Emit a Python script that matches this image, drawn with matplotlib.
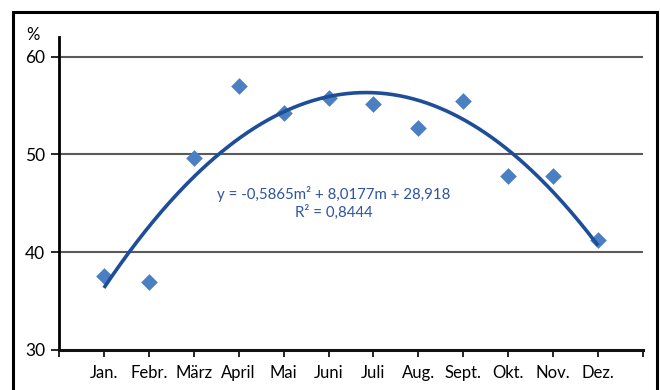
import numpy as np
import matplotlib
matplotlib.use("Agg")
import matplotlib.pyplot as plt
from matplotlib.patches import Rectangle

plt.rcParams['font.family'] = ['Lato', 'DejaVu Sans']

months = ["Jan.", "Febr.", "März", "April", "Mai", "Juni",
          "Juli", "Aug.", "Sept.", "Okt.", "Nov.", "Dez."]
values = [37.55, 37.0, 49.6, 56.95, 54.2, 55.8,
          55.1, 52.65, 55.45, 47.8, 47.8, 41.2]
# quadratic trend: y = a*m^2 + b*m + c
trend_coef = [-0.5865, 8.0177, 28.918]
r_squared = 0.8444
y_ticks = [30, 40, 50, 60]

fig = plt.figure(figsize=(6.6, 3.9), dpi=100)
ax = fig.add_axes([59 / 660, 1 - 350 / 390, (643 - 59) / 660, (350 - 37) / 390])

m = np.arange(1, len(months) + 1)
ax.scatter(m, values, marker="D", s=72, color="#4A7FC1", zorder=3, linewidths=0)

mm = np.linspace(1, len(months), 300)
ax.plot(mm, np.polyval(trend_coef, mm), color="#1F4E99", lw=2.6, zorder=4,
        solid_capstyle="butt")

ax.set_xlim(0, len(months) + 1)
ax.set_ylim(30, 62)
ax.set_yticks(y_ticks)
ax.set_yticklabels([str(v) for v in y_ticks], fontsize=12.5)
ax.set_xticks(np.arange(0, len(months) + 2))
ax.set_xticklabels([""] + months + [""], fontsize=12)

for v in y_ticks[1:]:
    ax.axhline(v, color="#5A5A5A", lw=1.5, zorder=1)

for s in ["top", "right"]:
    ax.spines[s].set_visible(False)
ax.spines["left"].set_linewidth(2)
ax.spines["bottom"].set_linewidth(2.2)
ax.spines["bottom"].set_color("#111111")
ax.tick_params(axis="y", length=6, width=1.2, pad=4)
ax.tick_params(axis="x", length=5, width=1.2, pad=6)

r2_text = f"{r_squared:.4f}".replace(".", ",")
eq = f"y = -0,5865m² + 8,0177m + 28,918\nR² = {r2_text}"
ax.text(6.12, 45.05, eq, ha="center", va="center", fontsize=10.8,
        color="#2E54A0", linespacing=1.25)

ax.text(-0.57, 62.2, "%", ha="center", va="center", fontsize=12)

frame = Rectangle((13 / 660, -0.05), (657 - 13) / 660, 1 - 12 / 390 + 0.05,
                  transform=fig.transFigure, fill=False, lw=2.2,
                  edgecolor="black", clip_on=False)
fig.patches.append(frame)

fig.savefig("out.png", dpi=100)
